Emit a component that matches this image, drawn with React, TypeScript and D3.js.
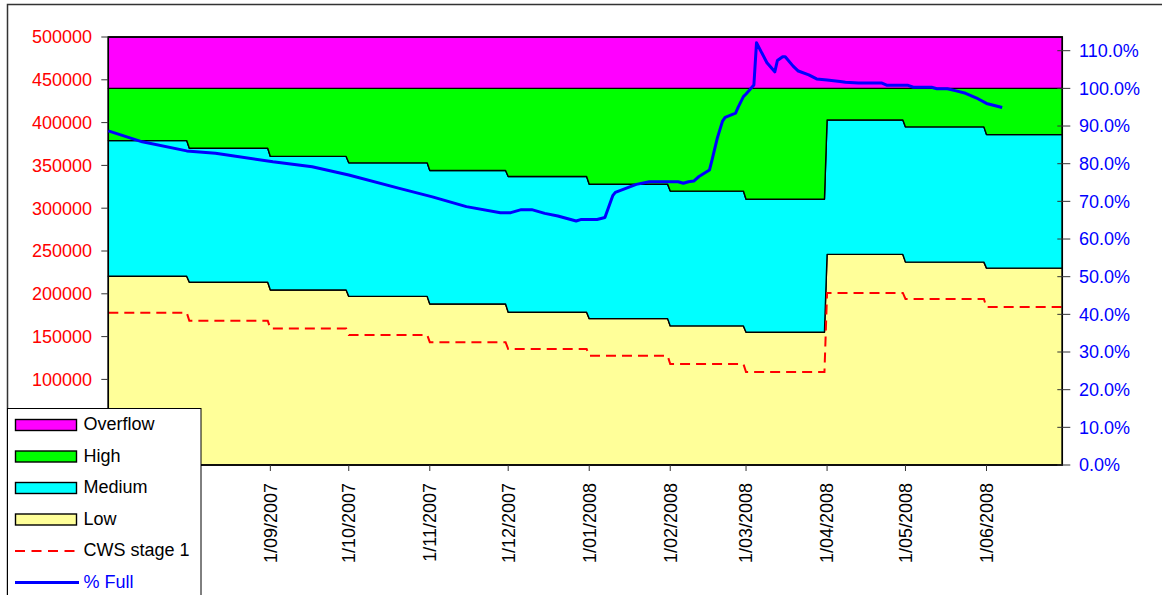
import React from "react";
import * as d3 from "d3";

// ---- data ----
const months = [
  "2007-07-01", "2007-08-01", "2007-09-01", "2007-10-01", "2007-11-01", "2007-12-01",
  "2008-01-01", "2008-02-01", "2008-03-01", "2008-04-01", "2008-05-01", "2008-06-01",
];
// stacked storage bands
const lowValues = [220500, 213500, 204500, 197000, 188000, 178500, 171000, 162500, 155000, 246000, 237000, 230000];
const mediumValues = [158500, 156500, 156000, 156000, 156000, 158500, 157000, 157500, 155500, 157000, 158000, 156000];
const highValues = [61000, 70000, 79500, 87000, 96000, 103000, 112000, 120000, 129500, 37000, 45000, 54000];
const overflowValues = [60000, 60000, 60000, 60000, 60000, 60000, 60000, 60000, 60000, 60000, 60000, 60000];
const cwsStage1 = [178000, 168500, 159500, 152000, 143500, 135500, 127500, 118000, 108500, 201000, 194000, 184500];

const fullDates = [
  "2007-07-01", "2007-07-14", "2007-07-31", "2007-08-11", "2007-09-02", "2007-09-17", "2007-10-01",
  "2007-10-20", "2007-11-02", "2007-11-15", "2007-11-28", "2007-12-02", "2007-12-06", "2007-12-10",
  "2007-12-15", "2007-12-20", "2007-12-27", "2007-12-29", "2008-01-04", "2008-01-07", "2008-01-10",
  "2008-01-11", "2008-01-14", "2008-01-19", "2008-01-24", "2008-02-04", "2008-02-06", "2008-02-08",
  "2008-02-10", "2008-02-12", "2008-02-16", "2008-02-17", "2008-02-19", "2008-02-21", "2008-02-22",
  "2008-02-26", "2008-02-27", "2008-02-29", "2008-03-01", "2008-03-04", "2008-03-05", "2008-03-09",
  "2008-03-12", "2008-03-13", "2008-03-15", "2008-03-16", "2008-03-19", "2008-03-21", "2008-03-25",
  "2008-03-28", "2008-04-01", "2008-04-06", "2008-04-08", "2008-04-13", "2008-04-22", "2008-04-24",
  "2008-05-02", "2008-05-04", "2008-05-11", "2008-05-13", "2008-05-17", "2008-05-20", "2008-05-24",
  "2008-05-28", "2008-06-01", "2008-06-07",
];
const fullPct = [
  88.7, 85.8, 83.4, 82.8, 80.5, 79.2, 77.0,
  73.5, 71.2, 68.6, 67.0, 67.0, 67.8, 67.8,
  66.8, 66.1, 64.8, 65.2, 65.2, 65.7, 71.5,
  72.4, 73.2, 74.5, 75.2, 75.2, 74.8, 75.2,
  75.4, 76.6, 78.3, 81.0, 86.8, 91.3, 92.3,
  93.4, 95.0, 97.8, 98.5, 100.9, 112.1, 106.8,
  104.4, 107.4, 108.4, 108.4, 105.9, 104.6, 103.6,
  102.5, 102.2, 101.8, 101.6, 101.4, 101.4, 100.8,
  100.8, 100.3, 100.3, 99.9, 99.9, 99.4, 98.7,
  97.5, 96.0, 94.9,
];

const leftTicks = [0, 50000, 100000, 150000, 200000, 250000, 300000, 350000, 400000, 450000, 500000];
// labels 0 and 50000 sit beneath the legend in the reference
const leftTickLabels = [100000, 150000, 200000, 250000, 300000, 350000, 400000, 450000, 500000];
const rightTicks = [0, 10, 20, 30, 40, 50, 60, 70, 80, 90, 100, 110];
const xTickDates = [
  "2007-07-01", "2007-08-01", "2007-09-01", "2007-10-01", "2007-11-01", "2007-12-01",
  "2008-01-01", "2008-02-01", "2008-03-01", "2008-04-01", "2008-05-01", "2008-06-01",
];
const capacity = 440000;
const domainStart = "2007-07-01";
const domainEnd = "2008-06-30";

const seriesKeys = ["Low", "Medium", "High", "Overflow"];
const seriesColors: Record<string, string> = {
  Overflow: "#FF00FF",
  High: "#00FF00",
  Medium: "#00FFFF",
  Low: "#FFFF99",
};

const parse = d3.utcParse("%Y-%m-%d");
const fmt = d3.utcFormat("%-d/%m/%Y");

export default function App() {
  const W = 1162, H = 595;
  const pl = 108.3, pr = 1062.3, pt = 37, pb = 465;
  const font = "'Liberation Sans', Arial, Helvetica, sans-serif";

  const x = d3.scaleUtc().domain([parse(domainStart)!, parse(domainEnd)!]).range([pl, pr]);
  const y = d3.scaleLinear().domain([0, 500000]).range([pb, pt]);
  const yPct = d3.scaleLinear().domain([0, (500000 / capacity) * 100]).range([pb, pt]);

  type Row = { date: Date; Low: number; Medium: number; High: number; Overflow: number; cws: number };
  const rows: Row[] = [];
  months.forEach((m, i) => {
    const start = parse(m)!;
    const end = i < months.length - 1 ? d3.utcDay.offset(parse(months[i + 1])!, -1) : parse(domainEnd)!;
    const base = {
      Low: lowValues[i], Medium: mediumValues[i], High: highValues[i], Overflow: overflowValues[i], cws: cwsStage1[i],
    };
    rows.push({ date: start, ...base });
    rows.push({ date: end, ...base });
  });

  const stacked = d3.stack<Row>().keys(seriesKeys)(rows);
  const area = d3
    .area<d3.SeriesPoint<Row>>()
    .x((d) => x(d.data.date))
    .y0((d) => y(d[0]))
    .y1((d) => y(d[1]));

  const cwsLine = d3.line<Row>().x((d) => x(d.date)).y((d) => y(d.cws));
  const fullData = fullDates.map((d, i) => ({ date: parse(d)!, v: fullPct[i] }));
  const fullLine = d3.line<{ date: Date; v: number }>().x((d) => x(d.date)).y((d) => yPct(d.v));

  const legendItems = [
    { label: "Overflow", type: "rect", color: seriesColors.Overflow },
    { label: "High", type: "rect", color: seriesColors.High },
    { label: "Medium", type: "rect", color: seriesColors.Medium },
    { label: "Low", type: "rect", color: seriesColors.Low },
    { label: "CWS stage 1", type: "dash", color: "#FF0000" },
    { label: "% Full", type: "line", color: "#0000FF" },
  ];

  return (
    <svg
      width={W}
      height={H}
      style={{ position: "absolute", left: 0, top: 0, background: "#fff" }}
      fontFamily={font}
    >
      <rect x={0} y={0} width={W} height={H} fill="#fff" />
      <rect x={7.5} y={4.5} width={1200} height={700} fill="#fff" stroke="#333" strokeWidth={1.5} />

      {stacked.map((s) => (
        <path
          key={s.key}
          d={area(s) || ""}
          fill={seriesColors[s.key]}
          stroke="#000"
          strokeWidth={1.4}
          strokeLinejoin="round"
        />
      ))}

      <path d={cwsLine(rows) || ""} fill="none" stroke="#FF0000" strokeWidth={2} strokeDasharray="10,6" />

      <rect x={pl} y={pt} width={pr - pl} height={pb - pt} fill="none" stroke="#000" strokeWidth={1.5} />

      <path d={fullLine(fullData) || ""} fill="none" stroke="#0000FF" strokeWidth={3} strokeLinejoin="round" />

      {leftTicks.map((t) => (
        <line key={"lt" + t} x1={pl - 7} x2={pl} y1={y(t)} y2={y(t)} stroke="#333" strokeWidth={1} />
      ))}
      {leftTickLabels.map((t) => (
        <text key={"l" + t} x={92} y={y(t)} dy="0.35em" textAnchor="end" fontSize={18} fill="#FF0000">
          {t}
        </text>
      ))}

      {rightTicks.map((t) => (
        <g key={"r" + t}>
          <line x1={pr - 5} x2={pr + 8} y1={yPct(t)} y2={yPct(t)} stroke="#333" strokeWidth={1} />
          <text x={1079} y={yPct(t)} dy="0.35em" textAnchor="start" fontSize={18} fill="#0000FF">
            {t.toFixed(1) + "%"}
          </text>
        </g>
      ))}

      {xTickDates.map((d) => {
        const xx = x(parse(d)!);
        return (
          <g key={"x" + d}>
            <line x1={xx} x2={xx} y1={pb} y2={pb + 6} stroke="#333" strokeWidth={1} />
            <text
              transform={`translate(${xx},${483}) rotate(-90)`}
              dy="0.35em"
              textAnchor="end"
              fontSize={18}
              fill="#000"
            >
              {fmt(parse(d)!)}
            </text>
          </g>
        );
      })}

      <g>
        <rect x={7.5} y={408.5} width={193.5} height={220} fill="#fff" stroke="#000" strokeWidth={1} />
        {legendItems.map((it, i) => {
          const cy = 425 + i * 31.5;
          return (
            <g key={it.label}>
              {it.type === "rect" && (
                <rect x={15.5} y={cy - 5.5} width={61} height={11} fill={it.color} stroke="#000" strokeWidth={1.4} />
              )}
              {it.type === "dash" && (
                <line x1={15} x2={78} y1={cy} y2={cy} stroke={it.color} strokeWidth={2} strokeDasharray="10,6.5" />
              )}
              {it.type === "line" && (
                <line x1={15} x2={79} y1={cy} y2={cy} stroke={it.color} strokeWidth={3} />
              )}
              <text
                x={83.5}
                y={cy - 1}
                dy="0.35em"
                fontSize={18}
                fill={it.type === "line" ? "#0000FF" : "#000"}
              >
                {it.label}
              </text>
            </g>
          );
        })}
      </g>
    </svg>
  );
}
